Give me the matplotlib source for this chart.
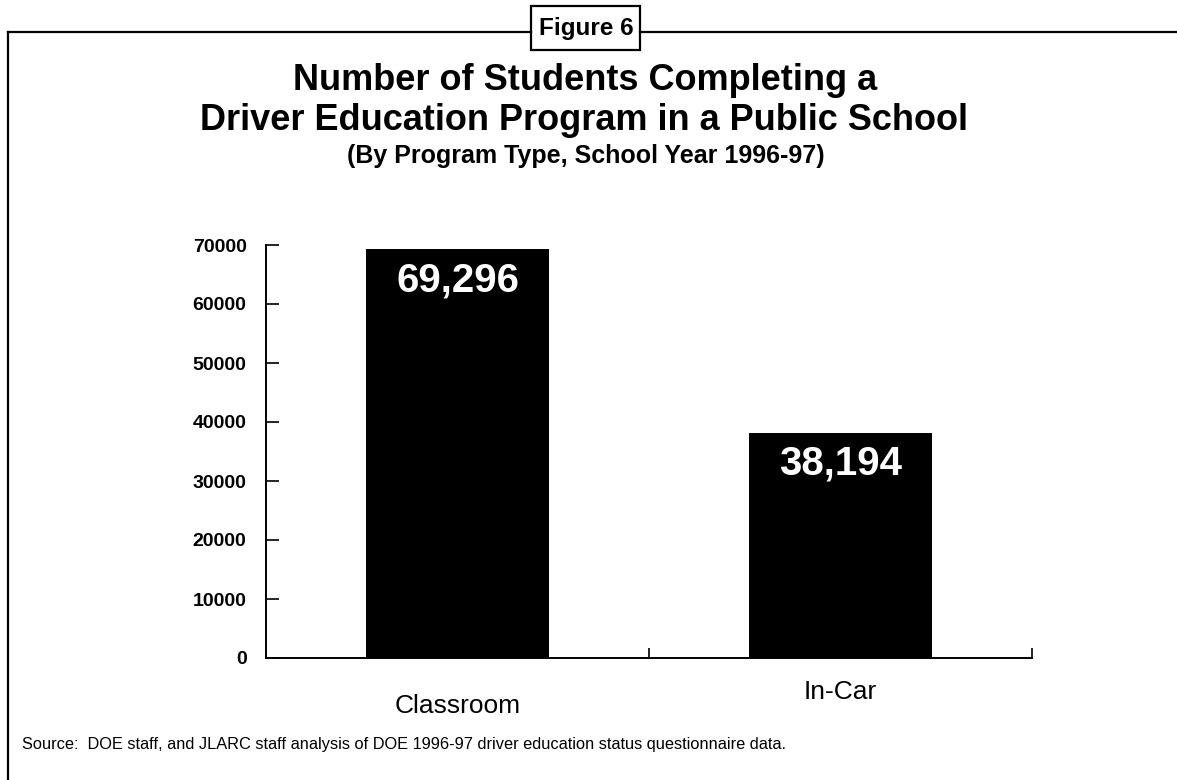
import matplotlib.pyplot as plt
from matplotlib.lines import Line2D
from matplotlib.patches import Rectangle
import matplotlib.transforms as mtransforms

categories = ["Classroom", "In-Car"]
students = [69296, 38194]
bar_labels = ["69,296", "38,194"]
y_ticks = [0, 10000, 20000, 30000, 40000, 50000, 60000, 70000]

plt.rcParams["font.family"] = ["Liberation Sans", "DejaVu Sans"]

W, H = 1177, 780
fig = plt.figure(figsize=(W / 100, H / 100), dpi=100)


def fx(px):
    return px / W


def fy(py):
    return 1 - py / H


# outer frame: top rule broken by the "Figure 6" box, left rule down the page
fig.add_artist(Line2D([fx(8), fx(531)], [fy(32), fy(32)], color="black", lw=1.6))
fig.add_artist(Line2D([fx(640), fx(1177)], [fy(32), fy(32)], color="black", lw=1.6))
fig.add_artist(Line2D([fx(8), fx(8)], [fy(32), fy(780)], color="black", lw=1.6))
fig.add_artist(Rectangle((fx(531), fy(50)), fx(640) - fx(531), (50 - 6) / H,
                         transform=fig.transFigure, fc="white", ec="black", lw=1.6))
fig.text(fx(586), fy(28), "Figure 6", ha="center", va="center", fontsize=17.5,
         fontweight="bold")

fig.text(fx(585), fy(80), "Number of Students Completing a", ha="center",
         va="center", fontsize=26, fontweight="bold")
fig.text(fx(584), fy(121), "Driver Education Program in a Public School",
         ha="center", va="center", fontsize=26, fontweight="bold")
fig.text(fx(586), fy(156), "(By Program Type, School Year 1996-97)",
         ha="center", va="center", fontsize=18, fontweight="bold")

ax = fig.add_axes([fx(266), fy(658), fx(1032) - fx(266), (658 - 245) / H])
x = [0.5, 1.5]
ax.bar(x, students, width=0.48, color="black")
for xi, v, lab in zip(x, students, bar_labels):
    ax.text(xi, v - 5300, lab, ha="center", va="center", color="white",
            fontsize=29, fontweight="bold")

ax.set_xlim(0, 2)
ax.set_ylim(0, 70000)
ax.set_yticks(y_ticks)
ax.set_yticklabels([str(t) for t in y_ticks], fontsize=14, fontweight="bold")
ax.tick_params(axis="y", direction="in", length=9, width=1.2, pad=14)
ax.set_xticks([1, 2])
ax.set_xticklabels([])
ax.tick_params(axis="x", direction="in", length=7, width=1.2)
for side in ["top", "right"]:
    ax.spines[side].set_visible(False)
ax.spines["left"].set_linewidth(1.4)
ax.spines["bottom"].set_linewidth(1.4)

trans = mtransforms.blended_transform_factory(ax.transData, fig.transFigure)
ax.text(x[0], fy(706), categories[0], transform=trans, ha="center", va="center",
        fontsize=19)
ax.text(x[1], fy(692), categories[1], transform=trans, ha="center", va="center",
        fontsize=19)

fig.text(fx(22), fy(745),
         "Source:  DOE staff, and JLARC staff analysis of DOE 1996-97 driver "
         "education status questionnaire data.",
         ha="left", va="center", fontsize=11.8)

fig.savefig("out.png", dpi=100)
